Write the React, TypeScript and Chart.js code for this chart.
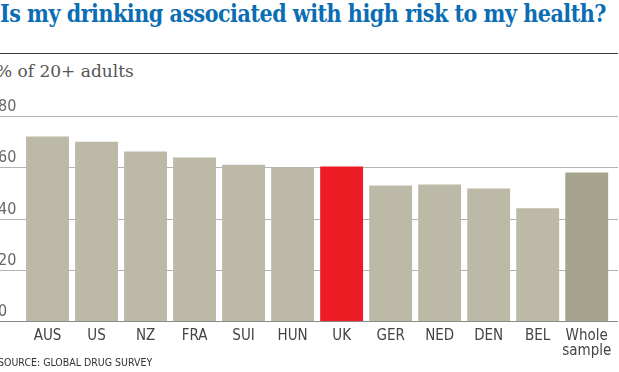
import React, { useEffect, useLayoutEffect, useRef } from "react";
import { Chart, registerables } from "chart.js";

Chart.register(...registerables);

const categories: (string | string[])[] = [
  "AUS", "US", "NZ", "FRA", "SUI", "HUN", "UK", "GER", "NED", "DEN", "BEL", ["Whole", "sample"],
];
const values: number[] = [72, 70, 66.1, 63.8, 61, 60, 60.3, 52.9, 53.3, 51.7, 44, 58];
const yTicks: number[] = [0, 20, 40, 60, 80];

const titleText = "Is my drinking associated with high risk to my health?";
const subtitleText = "% of 20+ adults";
const sourceText = "SOURCE: GLOBAL DRUG SURVEY";

const BAR = "#bcb9a7";
const UK_RED = "#ec1b24";
const WHOLE = "#a6a38e";

const CONDENSED = "'DejaVu Sans Condensed', 'Liberation Sans Narrow', 'Roboto Condensed', Roboto, sans-serif";

const fullGrid = {
  id: "fullGrid",
  beforeDatasetsDraw(chart: any) {
    const y = chart.scales.y;
    const ctx = chart.ctx;
    ctx.save();
    ctx.lineWidth = 1;
    y.ticks.forEach((t: any) => {
      if (t.value === 0) return;
      const py = Math.round(y.getPixelForValue(t.value)) + 0.5;
      ctx.strokeStyle = "#b4b4b4";
      ctx.beginPath();
      ctx.moveTo(0, py);
      ctx.lineTo(618, py);
      ctx.stroke();
    });
    ctx.restore();
  },
  afterDatasetsDraw(chart: any) {
    const y = chart.scales.y;
    const ctx = chart.ctx;
    ctx.save();
    ctx.lineWidth = 1;
    const py = Math.round(y.getPixelForValue(0)) + 0.5;
    ctx.strokeStyle = "#8a8a8a";
    ctx.beginPath();
    ctx.moveTo(0, py);
    ctx.lineTo(618, py);
    ctx.stroke();
    ctx.restore();
  },
};

export default function App() {
  const canvasRef = useRef<HTMLCanvasElement | null>(null);
  const titleRef = useRef<HTMLSpanElement | null>(null);

  useLayoutEffect(() => {
    const el = titleRef.current;
    if (!el) return;
    const w = el.getBoundingClientRect().width;
    if (w > 0) el.style.transform = `scaleX(${606 / w})`;
  }, []);

  useEffect(() => {
    if (!canvasRef.current) return;
    const colors = categories.map((c) =>
      c === "UK" ? UK_RED : Array.isArray(c) ? WHOLE : BAR
    );
    const chart = new Chart(canvasRef.current, {
      type: "bar",
      data: {
        labels: categories as any,
        datasets: [
          {
            data: values,
            backgroundColor: colors,
            borderWidth: 0,
            categoryPercentage: 1,
            barPercentage: 0.875,
          },
        ],
      },
      options: {
        animation: false,
        responsive: false,
        maintainAspectRatio: false,
        layout: { padding: { top: 26, right: 6, bottom: 0, left: 0 } },
        plugins: { legend: { display: false }, tooltip: { enabled: false } },
        scales: {
          x: {
            grid: { display: false, drawTicks: false },
            border: { display: false },
            ticks: {
              color: "#444444",
              padding: 7.5,
              font: { family: CONDENSED, size: 15, lineHeight: 1.0 },
              maxRotation: 0,
              autoSkip: false,
            },
            afterFit: (s: any) => {
              s.height = 39;
            },
          },
          y: {
            min: 0,
            max: 80,
            afterBuildTicks: (s: any) => {
              s.ticks = yTicks.map((v) => ({ value: v }));
            },
            grid: { display: false, drawTicks: false },
            border: { display: false },
            ticks: {
              mirror: true,
              padding: -25,
              labelOffset: -9,
              color: "#666666",
              font: { family: CONDENSED, size: 16 },
            },
            afterFit: (s: any) => {
              s.width = 23;
            },
          },
        },
      },
      plugins: [fullGrid],
    });
    return () => chart.destroy();
  }, []);

  return (
    <div
      style={{
        position: "absolute",
        left: 0,
        top: 0,
        width: 619,
        height: 372,
        overflow: "hidden",
        background: "#ffffff",
      }}
    >
      <div
        style={{
          position: "absolute",
          left: 0,
          top: 2.2,
          whiteSpace: "nowrap",
          fontFamily: "'DejaVu Serif', 'Liberation Serif', serif",
          fontWeight: "bold",
          fontStretch: "condensed",
          fontSize: 24,
          lineHeight: 1,
          color: "#0b6db3",
        }}
      >
        <span ref={titleRef} style={{ display: "inline-block", transformOrigin: "left top", letterSpacing: -0.5 }}>
          {titleText}
        </span>
      </div>
      <div
        style={{
          position: "absolute",
          left: 0,
          top: 53,
          width: 618,
          height: 1,
          background: "#3a3a3a",
        }}
      />
      <div
        style={{
          position: "absolute",
          left: -4,
          top: 63,
          whiteSpace: "nowrap",
          fontFamily: "'DejaVu Serif', 'Liberation Serif', serif",
          fontSize: 17,
          lineHeight: 1,
          color: "#555555",
        }}
      >
        {subtitleText}
      </div>
      <canvas
        ref={canvasRef}
        width={619}
        height={270}
        style={{ position: "absolute", left: 0, top: 90, width: 619, height: 270 }}
      />
      <div
        style={{
          position: "absolute",
          left: -2,
          top: 357,
          whiteSpace: "nowrap",
          fontFamily: CONDENSED,
          fontSize: 10.5,
          lineHeight: 1,
          color: "#333333",
        }}
      >
        {sourceText}
      </div>
    </div>
  );
}
